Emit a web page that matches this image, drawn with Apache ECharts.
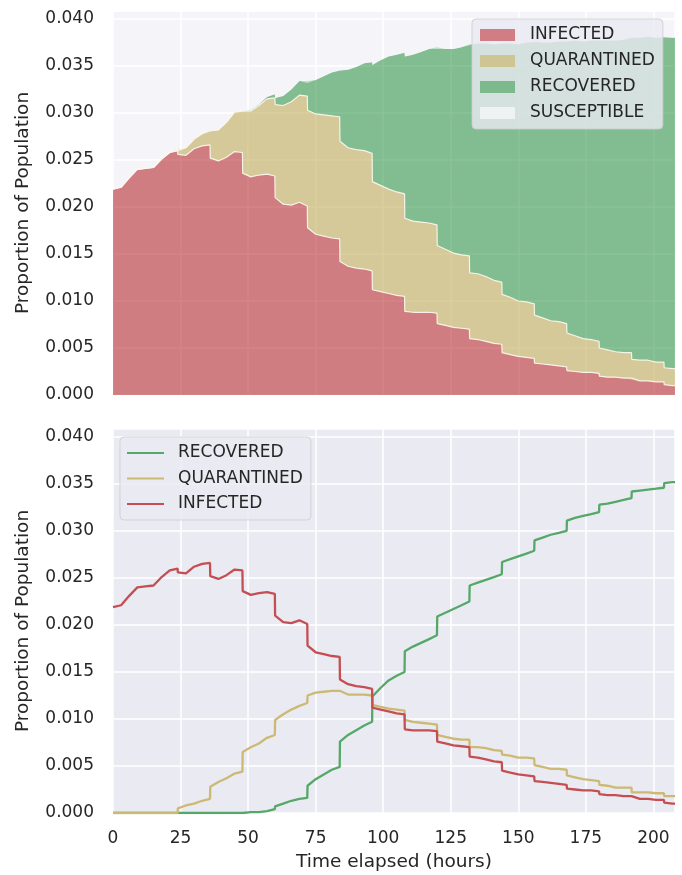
<!DOCTYPE html>
<html>
<head>
<meta charset="utf-8">
<script src="https://cdn.jsdelivr.net/npm/echarts@6/dist/echarts.min.js"></script>
<style>
html,body{margin:0;padding:0;background:#fff;}
#chart{width:682px;height:875px;}
</style>
</head>
<body>
<div id="chart"></div>
<script>
// Time grid (hours); the value just before each 12-hourly step jump is sampled at T-0.1
var times = [0,3,6,9,12,15,18,21,
  23.9,24,27,30,33, 35.9,36,39,42,45, 47.9,48,51,54,57, 59.9,60,63,66,69,
  71.9,72,75,78,81, 83.9,84,87,90,93, 95.9,96,99,102,105, 107.9,108,111,114,117,
  119.9,120,123,126,129, 131.9,132,135,138,141, 143.9,144,147,150,153,
  155.9,156,159,162,165, 167.9,168,171,174,177, 179.9,180,183,186,189,
  191.9,192,195,198,201, 203.9,204,207,208];

var infected = [0.0219,0.0221,0.0231,0.0240,0.0241,0.0242,0.0251,0.0258,
  0.0260,0.0256,0.0255,0.0262,0.0265, 0.0266,0.0252,0.0249,0.0253,0.0259,
  0.0258,0.0236,0.0232,0.0234,0.0235, 0.0233,0.0210,0.0203,0.0202,0.0205,
  0.0201,0.0178,0.0171,0.0169,0.0167, 0.0166,0.0142,0.0137,0.0135,0.0134,
  0.0132,0.0112,0.0110,0.0108,0.0106, 0.0105,0.0089,0.0088,0.0088,0.0088,
  0.0087,0.0076,0.0074,0.0072,0.0071, 0.0070,0.0060,0.0059,0.0057,0.0055,
  0.0054,0.0045,0.0043,0.0041,0.0040, 0.0039,0.0034,0.0033,0.0032,0.0031,
  0.0030,0.0026,0.0025,0.0024,0.0024, 0.0023,0.0020,0.0019,0.0019,0.0018,
  0.0018,0.0016,0.0015,0.0015,0.0014, 0.0014,0.0011,0.0010,0.0010];

var quarantined = [0,0,0,0,0,0,0,0,
  0,0.0005,0.0008,0.0010,0.0013, 0.0015,0.0028,0.0033,0.0037,0.0042,
  0.0044,0.0065,0.0070,0.0074,0.0080, 0.0083,0.0099,0.0105,0.0110,0.0114,
  0.0117,0.0125,0.0128,0.0129,0.0130, 0.0130,0.0128,0.0126,0.0126,0.0126,
  0.0125,0.0115,0.0113,0.0111,0.0110, 0.0109,0.0099,0.0097,0.0096,0.0095,
  0.0094,0.0083,0.0081,0.0079,0.0078, 0.0078,0.0070,0.0070,0.0069,0.0067,
  0.0066,0.0062,0.0061,0.0059,0.0059, 0.0058,0.0051,0.0049,0.0047,0.0047,
  0.0046,0.0040,0.0038,0.0036,0.0035, 0.0034,0.0030,0.0029,0.0027,0.0027,
  0.0027,0.0022,0.0022,0.0022,0.0021, 0.0021,0.0018,0.0018,0.0018];

var recovered = [0,0,0,0,0,0,0,0,
  0,0,0,0,0, 0,0,0,0,0,
  0,0,0.0001,0.0001,0.0002, 0.0004,0.0007,0.0010,0.0013,0.0015,
  0.0016,0.0029,0.0036,0.0041,0.0046, 0.0049,0.0076,0.0083,0.0088,0.0093,
  0.0097,0.0124,0.0133,0.0141,0.0146, 0.0150,0.0172,0.0177,0.0181,0.0185,
  0.0189,0.0209,0.0213,0.0217,0.0221, 0.0225,0.0242,0.0245,0.0248,0.0251,
  0.0254,0.0267,0.0270,0.0273,0.0276, 0.0279,0.0290,0.0293,0.0296,0.0298,
  0.0300,0.0311,0.0314,0.0316,0.0318, 0.0320,0.0328,0.0329,0.0331,0.0333,
  0.0335,0.0342,0.0343,0.0344,0.0345, 0.0346,0.0351,0.0352,0.0352];

var xTicks = [0,25,50,75,100,125,150,175,200];
var yTicks = ['0.000','0.005','0.010','0.015','0.020','0.025','0.030','0.035','0.040'];

function pairs(arr){ return times.map(function(t,i){ return [t, arr[i]]; }); }
// value first, time second: lets the stack accumulate the proportion, not the time
function vtPairs(arr){ return times.map(function(t,i){ return [arr[i], t]; }); }
var susceptible = times.map(function(t,i){ return 1 - infected[i] - quarantined[i] - recovered[i]; });

var FONT = 'DejaVu Sans';
var TXT = '#262626';
var C_I = '#C44E52', C_Q = '#CCB974', C_R = '#55A868';

function yLabel(v){
  var k = v / 0.005;
  if (Math.abs(k - Math.round(k)) > 1e-6) return '';
  return yTicks[Math.round(k)] || '';
}
function xLabel(v){
  return xTicks.indexOf(v) >= 0 ? String(v) : '';
}

function xAxis(idx, showLabels){
  return {
    type:'value', gridIndex: idx, min:0, max:208, interval:25,
    axisLine:{show:false}, axisTick:{show:false},
    axisLabel:{show:showLabels, formatter:xLabel, fontSize:17, color:TXT, fontFamily:FONT, margin:17},
    splitLine:{show:true, lineStyle:{color:'#ffffff', width:1.5}},
    name: showLabels ? 'Time elapsed (hours)' : '',
    nameLocation:'middle', nameGap:40,
    nameTextStyle:{fontSize:18.5, color:TXT, fontFamily:FONT}
  };
}
function yAxis(idx){
  return {
    type:'value', gridIndex: idx, min:0, max:0.04085, interval:0.005,
    axisLine:{show:false}, axisTick:{show:false},
    axisLabel:{formatter:yLabel, fontSize:17, color:TXT, fontFamily:FONT, margin:19},
    splitLine:{show:true, lineStyle:{color:'#ffffff', width:1.5}},
    name:'Proportion of Population', nameLocation:'middle', nameGap:80,
    nameTextStyle:{fontSize:18.5, color:TXT, fontFamily:FONT}
  };
}

var areaEdge = {color:'rgba(252,248,240,0.9)', width:1.2};
var enc = {x:1, y:0};

var option = {
  animation:false,
  backgroundColor:'#ffffff',
  grid:[
    {left:113, top:11, width:562, height:384, show:true, backgroundColor:'#eaeaf2', borderWidth:0},
    {left:113, top:429, width:562, height:384, show:true, backgroundColor:'#eaeaf2', borderWidth:0}
  ],
  xAxis:[xAxis(0,false), xAxis(1,true)],
  yAxis:[yAxis(0), yAxis(1)],
  legend:[
    {
      orient:'vertical', left:472, top:19, padding:[6,8,6,8], itemGap:6,
      icon:'rect', itemWidth:35, itemHeight:12,
      backgroundColor:'rgba(234,234,242,0.8)', borderColor:'rgba(204,204,204,0.8)', borderWidth:1, borderRadius:4,
      textStyle:{fontSize:17, color:TXT, fontFamily:FONT, lineHeight:20, padding:[0,0,0,10]},
      data:[
        {name:'INFECTED', itemStyle:{color:'rgba(196,78,82,0.7)', borderWidth:0}},
        {name:'QUARANTINED', itemStyle:{color:'rgba(204,185,116,0.7)', borderWidth:0}},
        {name:'RECOVERED', itemStyle:{color:'rgba(85,168,104,0.7)', borderWidth:0}},
        {name:'SUSCEPTIBLE', itemStyle:{color:'rgba(255,255,255,0.6)', borderWidth:0}}
      ]
    },
    {
      orient:'vertical', left:120, top:437, padding:[6,8,6,7], itemGap:5.5,
      icon:'rect', itemWidth:37, itemHeight:2.2,
      backgroundColor:'rgba(234,234,242,0.8)', borderColor:'rgba(204,204,204,0.8)', borderWidth:1, borderRadius:4,
      textStyle:{fontSize:17, color:TXT, fontFamily:FONT, lineHeight:20, padding:[0,0,0,9]},
      data:[
        {name:'RECOVERED', itemStyle:{color:C_R, borderWidth:0}},
        {name:'QUARANTINED', itemStyle:{color:C_Q, borderWidth:0}},
        {name:'INFECTED', itemStyle:{color:C_I, borderWidth:0}}
      ]
    }
  ],
  series:[
    {name:'INFECTED', type:'line', xAxisIndex:0, yAxisIndex:0, stack:'top', data:vtPairs(infected), encode:enc,
      symbol:'none', lineStyle:areaEdge, itemStyle:{color:C_I},
      areaStyle:{color:C_I, opacity:0.7}, z:2},
    {name:'QUARANTINED', type:'line', xAxisIndex:0, yAxisIndex:0, stack:'top', data:vtPairs(quarantined), encode:enc,
      symbol:'none', lineStyle:areaEdge, itemStyle:{color:C_Q},
      areaStyle:{color:C_Q, opacity:0.7}, z:2},
    {name:'RECOVERED', type:'line', xAxisIndex:0, yAxisIndex:0, stack:'top', data:vtPairs(recovered), encode:enc,
      symbol:'none', lineStyle:{width:0}, itemStyle:{color:C_R},
      areaStyle:{color:C_R, opacity:0.7}, z:2},
    {name:'SUSCEPTIBLE', type:'line', xAxisIndex:0, yAxisIndex:0, stack:'top', data:vtPairs(susceptible), encode:enc,
      symbol:'none', lineStyle:{width:0}, itemStyle:{color:'#ffffff'},
      areaStyle:{color:'#ffffff', opacity:0.5}, z:2},

    {name:'RECOVERED', type:'line', xAxisIndex:1, yAxisIndex:1, data:pairs(recovered),
      symbol:'none', lineStyle:{color:C_R, width:2.3}, itemStyle:{color:C_R}, z:3},
    {name:'QUARANTINED', type:'line', xAxisIndex:1, yAxisIndex:1, data:pairs(quarantined),
      symbol:'none', lineStyle:{color:C_Q, width:2.3}, itemStyle:{color:C_Q}, z:3},
    {name:'INFECTED', type:'line', xAxisIndex:1, yAxisIndex:1, data:pairs(infected),
      symbol:'none', lineStyle:{color:C_I, width:2.3}, itemStyle:{color:C_I}, z:3}
  ]
};

var chart = echarts.init(document.getElementById('chart'), null, {renderer:'canvas'});
chart.setOption(option);
</script>
</body>
</html>
